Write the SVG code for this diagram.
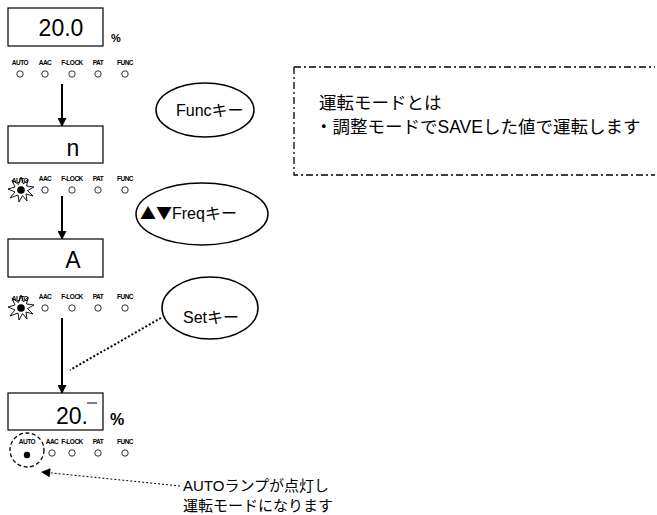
<svg xmlns="http://www.w3.org/2000/svg" width="657" height="515" viewBox="0 0 657 515">
<defs>
<style>
.box{fill:#fff;stroke:#000;stroke-width:1.2}
.big{font-family:"Liberation Sans",Arial,sans-serif;font-size:23px;fill:#000}
.lbl{font-family:"Liberation Sans",Arial,sans-serif;font-size:6.5px;font-weight:bold;fill:#000;text-anchor:middle;letter-spacing:-0.5px}
.lamp{fill:#fff;stroke:#000;stroke-width:0.8}
.key{fill:#fff;stroke:#000;stroke-width:1.5}
.kt{font-family:"Liberation Sans","Noto Sans CJK JP",sans-serif;font-size:16px;fill:#000}
.bt{font-family:"Liberation Sans","Noto Sans CJK JP",sans-serif;font-size:15px;fill:#000}
.jt{font-family:"Liberation Sans","Noto Sans CJK JP",sans-serif;font-size:17.5px;fill:#000}
.arr{stroke:#000;stroke-width:2;fill:none}
</style>
<marker id="ah2" viewBox="0 0 10 10" refX="9" refY="5" markerWidth="12" markerHeight="9" orient="auto" markerUnits="userSpaceOnUse">
<path d="M0,0 L10,5 L0,10 z" fill="#000"/>
</marker>
<g id="lamps">
<text class="lbl" x="45" y="0">AAC</text>
<text class="lbl" x="72" y="0">F-LOCK</text>
<text class="lbl" x="98" y="0">PAT</text>
<text class="lbl" x="125" y="0">FUNC</text>
<circle class="lamp" cx="45" cy="9" r="3.2"/>
<circle class="lamp" cx="72" cy="9" r="3.2"/>
<circle class="lamp" cx="98" cy="9" r="3.2"/>
<circle class="lamp" cx="125" cy="9" r="3.2"/>
</g>
<polygon id="star" points="21,177 23.5,184 28,179 26.5,186 34,187 27.5,190.5 33,196 26,194 27,201 22.5,195.5 19,202 18,195 10,198 15,192 8,189 15,187 12,180 18.5,184.5" fill="none" stroke="#000" stroke-width="0.9"/>
</defs>

<g id="connectors">
<line class="arr" x1="62" y1="84" x2="62" y2="126" marker-end="url(#ah2)"/>
<line class="arr" x1="62" y1="196" x2="62" y2="239" marker-end="url(#ah2)"/>
<line class="arr" x1="62" y1="318" x2="62" y2="393" marker-end="url(#ah2)"/>
<line x1="161" y1="318" x2="70" y2="370" stroke="#000" stroke-width="2" stroke-dasharray="2,2"/>
<line x1="180" y1="486" x2="42" y2="472" stroke="#000" stroke-width="1" stroke-dasharray="2,2" marker-end="url(#ah2)"/>
</g>

<g id="display1">
<rect class="box" x="8" y="8" width="95" height="38"/>
<text class="big" x="61" y="36" text-anchor="middle">20.0</text>
<text x="111" y="42" font-family="Liberation Sans,Arial,sans-serif" font-size="11" font-weight="bold">%</text>
<text class="lbl" x="20" y="65">AUTO</text>
<circle class="lamp" cx="20" cy="74" r="3.2"/>
<use href="#lamps" y="65"/>
</g>

<g id="display2">
<rect class="box" x="8" y="126" width="95" height="37"/>
<text class="big" x="73" y="156" text-anchor="middle">n</text>
<text class="lbl" x="20" y="183">AUTO</text>
<use href="#star"/>
<circle cx="21" cy="190" r="3.8" fill="#000"/>
<use href="#lamps" y="181"/>
</g>

<g id="display3">
<rect class="box" x="8" y="239" width="95" height="38"/>
<text class="big" x="73" y="268" text-anchor="middle">A</text>
<text class="lbl" x="20" y="301">AUTO</text>
<use href="#star" y="118"/>
<circle cx="21" cy="308" r="3.8" fill="#000"/>
<use href="#lamps" y="299"/>
</g>

<g id="display4">
<rect class="box" x="8" y="393" width="95" height="37"/>
<text class="big" x="72" y="424" text-anchor="middle">20.</text>
<line x1="87" y1="403" x2="97" y2="403" stroke="#000" stroke-width="1"/>
<text x="110" y="425" font-family="Liberation Sans,Arial,sans-serif" font-size="16" font-weight="bold">%</text>
<circle cx="27" cy="450" r="17" fill="none" stroke="#000" stroke-width="1.3" stroke-dasharray="4,2.5"/>
<text class="lbl" x="27" y="444">AUTO</text>
<circle cx="27" cy="455" r="3.2" fill="#000"/>
<text class="lbl" x="52" y="444">AAC</text>
<text class="lbl" x="72" y="444">F-LOCK</text>
<text class="lbl" x="98" y="444">PAT</text>
<text class="lbl" x="125" y="444">FUNC</text>
<circle class="lamp" cx="52" cy="453" r="3.2"/>
<circle class="lamp" cx="72" cy="453" r="3.2"/>
<circle class="lamp" cx="98" cy="453" r="3.2"/>
<circle class="lamp" cx="125" cy="453" r="3.2"/>
</g>

<g id="funcKey">
<ellipse class="key" cx="205" cy="110" rx="49" ry="27"/>
<text class="kt" x="176" y="116">Funcキー</text>
</g>

<g id="freqKey">
<ellipse class="key" cx="202" cy="214" rx="66" ry="31"/>
<text class="kt" x="140" y="219"><tspan font-family="Noto Sans CJK JP,sans-serif">▲▼</tspan>Freqキー</text>
</g>

<g id="setKey">
<ellipse class="key" cx="210" cy="308" rx="48" ry="31"/>
<text class="kt" x="183" y="323">Setキー</text>
</g>

<g id="note">
<path d="M294,67 H655 M294,67 V175 H655" fill="none" stroke="#000" stroke-width="1.3" stroke-dasharray="7,3,2,3"/>
<text class="jt" x="319" y="109">運転モードとは</text>
<text class="jt" x="315" y="133">・調整モードでSAVEした値で運転します</text>
</g>

<g id="autoNote">
<text class="bt" x="183" y="491">AUTOランプが点灯し</text>
<text class="bt" x="183" y="511">運転モードになります</text>
</g>
</svg>
